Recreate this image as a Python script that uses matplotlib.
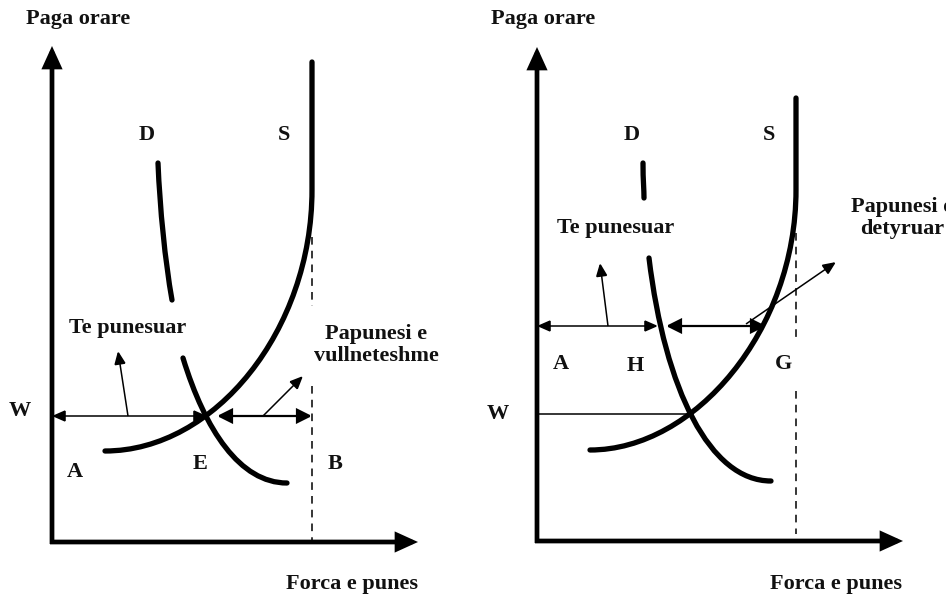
import numpy as np
import matplotlib.pyplot as plt
from matplotlib.path import Path
from matplotlib.patches import PathPatch, FancyArrowPatch

plt.rcParams['font.family'] = ['Liberation Serif', 'DejaVu Serif']

# all coordinates are picture pixels, y grows downward
# left panel: voluntary unemployment
left_axis_x, left_axis_y = 52, 542
left_ytip, left_xtip = 46, 418
left_s = [(312, 62), (312, 190), (312, 330), (215, 451), (105, 451)]
left_d_top = [(158, 163), (160, 210), (165, 260), (172, 300)]
left_d_low = [(183, 358), (205, 430), (240, 483), (287, 483)]
left_dash_x = [312, 312, np.nan, 312, 312]
left_dash_y = [237, 306, np.nan, 386, 541]
left_w = 416
left_e = 207
left_b = 312

# right panel: forced unemployment
right_axis_x, right_axis_y = 537, 541
right_ytip, right_xtip = 47, 903
right_s = [(796, 98), (796, 190), (796, 330), (695, 450), (590, 450)]
right_d_top = [(643, 163), (643, 180), (644, 190), (644, 198)]
right_d_low = [(649, 258), (665, 390), (710, 481), (771, 481)]
right_dash_x = [796, 796, np.nan, 796, 796]
right_dash_y = [233, 338, np.nan, 391, 534]
right_w = 414
right_e = 693
right_wage = 326
right_h = 658
right_g = 766

labels_left = [("Paga orare", 78, 19), ("D", 147, 135), ("S", 284, 135),
               ("W", 20, 411), ("A", 75, 472), ("E", 200, 464), ("B", 335, 464),
               ("Te punesuar", 128, 328), ("Papunesi e\nvullneteshme", 376, 345),
               ("Forca e punes", 352, 584)]
labels_right = [("Paga orare", 543, 19), ("D", 632, 135), ("S", 769, 135),
                ("Te punesuar", 616, 228), ("Papunesi e\ndetyruar", 902, 218),
                ("A", 561, 364), ("H", 635, 366), ("G", 783, 364),
                ("W", 498, 414), ("Forca e punes", 836, 584)]

fig = plt.figure(figsize=(9.46, 6.02), dpi=100)
ax = fig.add_axes([0, 0, 1, 1])
ax.set_xlim(0, 946)
ax.set_ylim(602, 0)
ax.axis('off')


def arrow(p0, p1, style, lw, hl, hw):
    a = FancyArrowPatch(p0, p1, arrowstyle=f"{style},head_length={hl},head_width={hw}",
                        lw=lw, color='black', shrinkA=0, shrinkB=0, mutation_scale=1,
                        joinstyle='miter', capstyle='butt')
    ax.add_patch(a)


def curve(pts, straight_first=False):
    if straight_first:
        codes = [Path.MOVETO, Path.LINETO, Path.CURVE4, Path.CURVE4, Path.CURVE4]
    else:
        codes = [Path.MOVETO, Path.CURVE4, Path.CURVE4, Path.CURVE4]
    ax.add_patch(PathPatch(Path(pts, codes), fill=False, lw=3.8, capstyle='round',
                           edgecolor='black'))


def axes_arrows(x0, y0, ytip, xtip):
    arrow((x0, y0 + 2), (x0, ytip), '-|>', 3.4, 11, 5)
    arrow((x0 - 2, y0), (xtip, y0), '-|>', 3.4, 11, 5)


# left panel
axes_arrows(left_axis_x, left_axis_y, left_ytip, left_xtip)
ax.plot(left_dash_x, left_dash_y, color='black', lw=1.1, dashes=(5, 4))
curve(left_s, straight_first=True)
curve(left_d_top)
curve(left_d_low)
arrow((left_axis_x, left_w), (left_e, left_w), '<|-|>', 1.1, 8, 3.5)
arrow((left_e + 10, left_w), (left_b, left_w), '<|-|>', 1.6, 9, 4.5)
arrow((128, left_w), (118, 351), '-|>', 1.1, 8, 3.5)
arrow((263, left_w), (303, 376), '-|>', 1.1, 8, 3.5)

# right panel
axes_arrows(right_axis_x, right_axis_y, right_ytip, right_xtip)
ax.plot(right_dash_x, right_dash_y, color='black', lw=1.1, dashes=(5, 4))
curve(right_s, straight_first=True)
curve(right_d_top)
curve(right_d_low)
ax.plot([right_axis_x, right_e], [right_w, right_w], color='black', lw=1.1)
arrow((right_axis_x, right_wage), (right_h, right_wage), '<|-|>', 1.1, 8, 3.5)
arrow((right_h + 8, right_wage), (right_g, right_wage), '<|-|>', 1.6, 9, 4.5)
arrow((608, right_wage), (600, 263), '-|>', 1.1, 8, 3.5)
arrow((746, 324), (836, 262), '-|>', 1.1, 8, 3.5)

# the right-hand label runs past the edge, as in the source picture
for txt, x, y in labels_left + labels_right:
    ax.text(x, y, txt, fontsize=16, fontweight='bold', ha='center', va='center',
            linespacing=1.15, color='#111111')

fig.savefig('out.png', dpi=100, facecolor='white')
